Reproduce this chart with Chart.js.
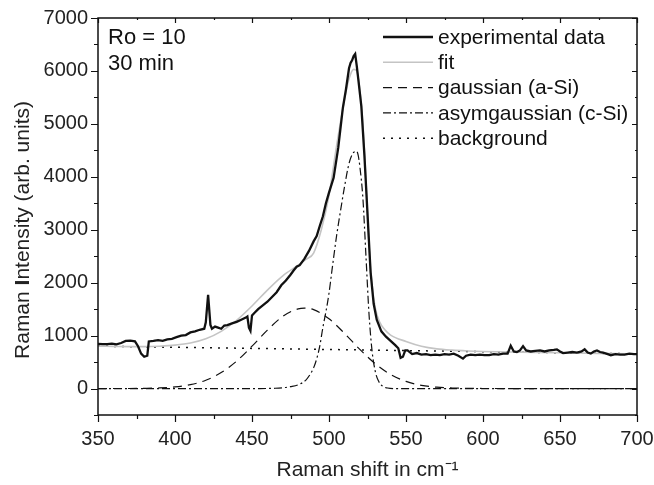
<!DOCTYPE html>
<html>
<head>
<meta charset="utf-8">
<script src="https://cdn.jsdelivr.net/npm/chart.js@4.4.1/dist/chart.umd.min.js"></script>
<style>
  html, body { margin: 0; padding: 0; background: #fff; }
</style>
</head>
<body>
<canvas id="grafico" width="654" height="485"></canvas>
<script>
// eixos (ticks com rótulo)
const xTicks = [350, 400, 450, 500, 550, 600, 650, 700];
const yTicks = [0, 1000, 2000, 3000, 4000, 5000, 6000, 7000];

const expX = [350, 353, 356, 359, 362, 365, 368, 371, 374, 376, 378, 380, 382, 383, 386, 389, 392, 395, 398, 401,
  404, 407, 410, 413, 416, 419, 420, 421.5, 423, 424, 426, 428, 430, 432, 434, 437, 440, 443, 446, 447,
  448, 449, 450, 452, 454, 457, 460, 463, 466, 469, 472, 475, 477, 479, 481, 484, 487, 490, 492, 494,
  496, 498, 500, 503, 506, 509, 511, 513, 514, 515, 516, 517, 518, 519, 521, 523, 525, 527, 529, 531,
  534, 537, 540, 543, 545, 546.5, 548, 549.5, 551, 554, 557, 560, 563, 566, 569, 572, 575, 578, 581, 584,
  587, 589, 592, 595, 598, 601, 604, 607, 610, 613, 616, 618, 620, 622, 624, 626, 628, 631, 634, 637,
  640, 643, 646, 648, 650, 652, 655, 658, 661, 664, 666, 668, 670, 672, 674, 676, 678, 681, 683, 686,
  689, 692, 695, 698, 700];
const expY = [845, 840, 838, 850, 835, 860, 900, 905, 890, 800, 660, 600, 620, 890, 900, 915, 900, 930, 940, 970,
  1000, 1010, 1060, 1080, 1110, 1130, 1250, 1770, 1200, 1130, 1170, 1150, 1130, 1190, 1200, 1230, 1260, 1300, 1340, 1360,
  1150, 1090, 1380, 1440, 1500, 1570, 1640, 1730, 1820, 1950, 2040, 2150, 2230, 2300, 2330, 2450, 2600, 2780, 2880, 3070,
  3250, 3500, 3700, 3980, 4550, 5300, 5650, 6050, 6150, 6200, 6280, 6320, 6100, 5850, 5330, 4400, 3300, 2200, 1600, 1300,
  1080, 980, 900, 820, 760, 580, 600, 720, 720, 650, 670, 640, 650, 630, 640, 630, 650, 640, 660, 620,
  565, 620, 640, 630, 640, 630, 630, 650, 640, 660, 660, 810, 700, 690, 720, 800, 720, 700, 710, 720,
  700, 720, 730, 740, 700, 670, 680, 690, 680, 700, 740, 680, 660, 700, 720, 690, 680, 650, 630, 650,
  640, 640, 660, 650, 650];

// ajuste total
const fitX = [350, 360, 370, 380, 390, 400, 410, 420, 430, 440, 450, 460, 470, 480, 485, 490, 495, 500, 505, 510,
  513, 516, 518, 520, 522, 524, 526, 528, 530, 533, 536, 540, 550, 560, 570, 580, 590, 600, 625, 650, 675, 700];
const fitY = [800, 796, 792, 792, 800, 820, 860, 940, 1080, 1290, 1560, 1860, 2130, 2330, 2440, 2560, 3000, 3650, 4600, 5450,
  5850, 6030, 6000, 5650, 5000, 3950, 2700, 1950, 1530, 1250, 1120, 1010, 890, 800, 750, 725, 710, 700, 688, 676, 665, 655];

// gaussiana (a-Si)
const gaussX = [350, 370, 380, 390, 400, 410, 420, 430, 440, 450, 460, 470, 480, 484, 490, 500, 510, 520, 530, 540,
  550, 560, 570, 580, 590, 600, 620, 700];
const gaussY = [0, 1, 4, 11, 30, 73, 156, 301, 518, 800, 1104, 1363, 1506, 1520, 1490, 1318, 1044, 740, 469, 266,
  135, 61, 25, 10, 4, 1, 0, 0];

// asymgaussian (c-Si)
const asymX = [350, 455, 465, 470, 475, 480, 485, 488, 490, 492, 494, 496, 498, 500, 502, 505, 508, 510, 513, 516,
  518, 519, 520, 522, 524, 526, 528, 530, 532, 535, 538, 542, 700];
const asymY = [0, 0, 5, 15, 35, 70, 160, 280, 390, 560, 800, 1150, 1450, 1800, 2250, 2900, 3450, 3800, 4250, 4460,
  4480, 4400, 4200, 3600, 2500, 1400, 700, 330, 150, 40, 10, 0, 0];

// fundo
const bgX = [350, 700];
const bgY = [800, 655];

const fonte = 'Liberation Sans, Arial, Helvetica, sans-serif';

function pontos(xs, ys) {
  return xs.map((v, i) => ({ x: v, y: ys[i] }));
}

// moldura, ticks menores, legenda e textos
const moldura = {
  id: 'moldura',
  afterDraw(chart) {
    const { ctx, chartArea: a, scales: { x, y } } = chart;
    ctx.save();
    ctx.strokeStyle = '#111';
    ctx.lineWidth = 1.5;
    ctx.strokeRect(a.left, a.top, a.right - a.left, a.bottom - a.top);

    ctx.lineWidth = 1.2;
    ctx.beginPath();
    for (let v = 350; v <= 700; v += 25) {
      const px = Math.round(x.getPixelForValue(v)) + 0.5;
      const len = xTicks.includes(v) ? 7 : 4;
      ctx.moveTo(px, a.bottom); ctx.lineTo(px, a.bottom + len);
      ctx.moveTo(px, a.top); ctx.lineTo(px, a.top + len - 2);
    }
    for (let v = -500; v <= 7000; v += 500) {
      const py = Math.round(y.getPixelForValue(v)) + 0.5;
      const len = yTicks.includes(v) ? 7 : 4;
      ctx.moveTo(a.left, py); ctx.lineTo(a.left - len, py);
      ctx.moveTo(a.right, py); ctx.lineTo(a.right - len + 2, py);
    }
    ctx.stroke();

    // legenda
    ctx.font = '21px ' + fonte;
    ctx.textBaseline = 'middle';
    ctx.fillStyle = '#111';
    chart.data.datasets.forEach((ds, i) => {
      const ly = 37 + i * 25.3;
      ctx.strokeStyle = ds.borderColor;
      ctx.lineWidth = ds.borderWidth;
      ctx.setLineDash(ds.borderDash || []);
      ctx.beginPath();
      ctx.moveTo(383, ly);
      ctx.lineTo(433, ly);
      ctx.stroke();
      ctx.setLineDash([]);
      ctx.fillText(ds.label, 438, ly + 1);
    });

    ctx.font = '22px ' + fonte;
    ctx.fillText('Ro = 10', 108, 38);
    ctx.fillText('30 min', 108, 64);

    // título do eixo y (com o "I" em negrito, como no original)
    ctx.fillStyle = '#222';
    ctx.translate(23, 230);
    ctx.rotate(-Math.PI / 2);
    const partes = [['Raman ', '21px '], ['I', 'bold 21px '], ['ntensity (arb. units)', '21px ']];
    let total = 0;
    partes.forEach(p => { ctx.font = p[1] + fonte; total += ctx.measureText(p[0]).width; });
    let px = -total / 2;
    ctx.textAlign = 'left';
    partes.forEach(p => {
      ctx.font = p[1] + fonte;
      ctx.fillText(p[0], px, 0);
      px += ctx.measureText(p[0]).width;
    });
    ctx.restore();
  }
};

const grafico = new Chart(document.getElementById('grafico'), {
  type: 'line',
  data: {
    datasets: [
      { label: 'experimental data', data: pontos(expX, expY), borderColor: '#111', borderWidth: 2.3, tension: 0 },
      { label: 'fit', data: pontos(fitX, fitY), borderColor: '#c4c4c4', borderWidth: 1.6, cubicInterpolationMode: 'monotone' },
      { label: 'gaussian (a-Si)', data: pontos(gaussX, gaussY), borderColor: '#111', borderWidth: 1.2, borderDash: [9, 6], cubicInterpolationMode: 'monotone' },
      { label: 'asymgaussian (c-Si)', data: pontos(asymX, asymY), borderColor: '#111', borderWidth: 1.2, borderDash: [8, 3, 2, 3], cubicInterpolationMode: 'monotone' },
      { label: 'background', data: pontos(bgX, bgY), borderColor: '#111', borderWidth: 1.5, borderDash: [2, 6] }
    ]
  },
  options: {
    responsive: false,
    animation: false,
    elements: { point: { radius: 0 } },
    layout: { padding: { left: 0, right: 17, top: 18, bottom: 0 } },
    plugins: { legend: { display: false }, tooltip: { enabled: false } },
    scales: {
      x: {
        type: 'linear',
        min: 350,
        max: 700,
        afterBuildTicks: s => { s.ticks = xTicks.map(v => ({ value: v })); },
        afterFit: s => { s.height = 70; s.paddingLeft = 0; s.paddingRight = 0; },
        grid: { display: false, drawTicks: true, tickLength: 7 },
        border: { display: false },
        ticks: { color: '#222', padding: 5, maxRotation: 0, autoSkip: false, callback: v => String(v), font: { family: fonte, size: 20 } },
        title: { display: true, text: 'Raman shift in cm⁻¹', color: '#222', padding: { top: 0, bottom: 2 }, font: { family: fonte, size: 21 } }
      },
      y: {
        min: -500,
        max: 7000,
        afterBuildTicks: s => { s.ticks = yTicks.map(v => ({ value: v })); },
        afterFit: s => { s.width = 98; s.paddingTop = 0; s.paddingBottom = 0; },
        grid: { display: false, drawTicks: true, tickLength: 7 },
        border: { display: false },
        ticks: { color: '#222', padding: 3, callback: v => String(v), font: { family: fonte, size: 20 } },
        title: { display: false }
      }
    }
  },
  plugins: [moldura]
});
</script>
</body>
</html>
